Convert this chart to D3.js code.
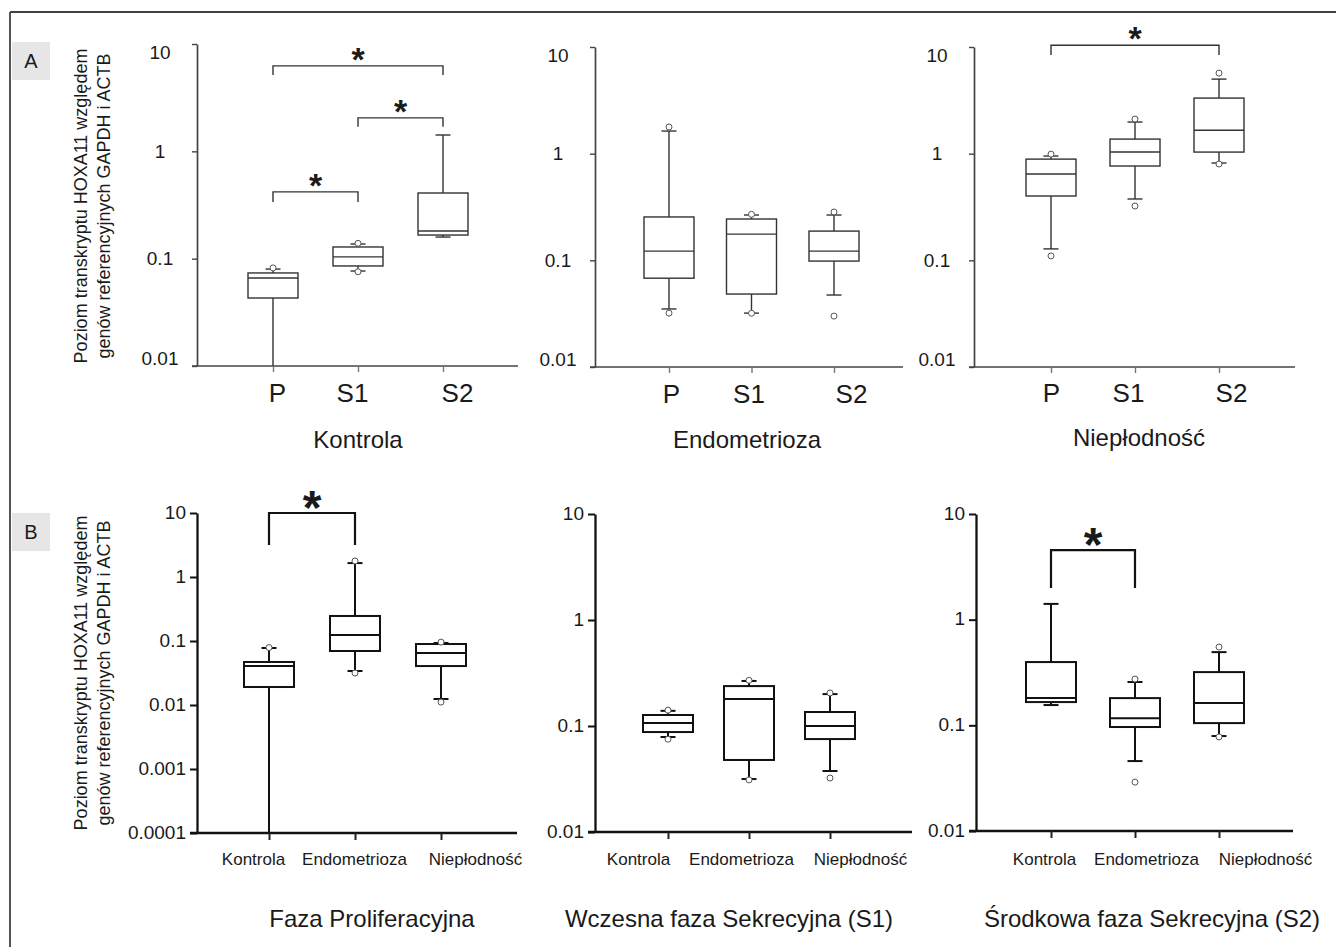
<!DOCTYPE html>
<html><head><meta charset="utf-8">
<script src="https://cdn.jsdelivr.net/npm/d3@7"></script>
<style>
body{margin:0;background:#fff;}
text{font-family:"Liberation Sans",Arial,Helvetica,sans-serif;fill:#1a1a1a;}
</style>
</head><body>
<svg id="chart" width="1336" height="947"></svg>
<script>
// ---------------- DATA ----------------
const catA = ["P", "S1", "S2"];
const catB = ["Kontrola", "Endometrioza", "Niepłodność"];
const titlesA = ["Kontrola", "Endometrioza", "Niepłodność"];
const titlesB = ["Faza Proliferacyjna", "Wczesna faza Sekrecyjna (S1)", "Środkowa faza Sekrecyjna (S2)"];
const yLabelLines = ["Poziom transkryptu HOXA11 względem", "genów referencyjnych GAPDH i ACTB"];
const rowLetters = ["A", "B"];

const ticksA = [0.01, 0.1, 1, 10];
const tickLabelsA = ["0.01", "0.1", "1", "10"];
const ticksProlif = [0.0001, 0.001, 0.01, 0.1, 1, 10];
const tickLabelsProlif = ["0.0001", "0.001", "0.01", "0.1", "1", "10"];

// each box: [lower whisker, Q1, median, Q3, upper whisker]
const boxesKontrola = [[0.01, 0.043, 0.066, 0.0736, 0.080], [0.0767, 0.0855, 0.104, 0.1285, 0.137], [0.159, 0.166, 0.181, 0.409, 1.42]];
const outliersKontrola = [[0.082], [0.139, 0.0755], []];
const boxesEndo = [[0.035, 0.068, 0.122, 0.255, 1.63], [0.032, 0.0483, 0.176, 0.244, 0.266], [0.0473, 0.0984, 0.122, 0.188, 0.266]];
const outliersEndo = [[1.78, 0.032], [0.27, 0.0319], [0.284, 0.030]];
const boxesNiep = [[0.128, 0.401, 0.644, 0.889, 0.95], [0.376, 0.766, 1.035, 1.37, 1.98], [0.817, 1.035, 1.66, 3.32, 5.0]];
const outliersNiep = [[0.99, 0.110], [2.11, 0.323], [5.69, 0.80]];

const boxesProlif = [[0.0001, 0.0191, 0.0406, 0.047, 0.0778], [0.034, 0.0698, 0.124, 0.246, 1.65], [0.0124, 0.0406, 0.065, 0.0897, 0.093]];
const outliersProlif = [[0.079], [1.78, 0.0316], [0.096, 0.0111]];
const boxesS1 = [[0.0787, 0.0877, 0.1066, 0.127, 0.139], [0.0316, 0.0478, 0.18, 0.238, 0.266], [0.0376, 0.0753, 0.1, 0.1355, 0.2]];
const outliersS1 = [[0.141, 0.075], [0.27, 0.031], [0.205, 0.0323]];
const boxesS2 = [[0.1556, 0.166, 0.181, 0.397, 1.41], [0.0459, 0.0964, 0.117, 0.181, 0.257], [0.0792, 0.105, 0.1626, 0.319, 0.493]];
const outliersS2 = [[], [0.274, 0.029], [0.551, 0.0777]];

// significance brackets: [from, to, bracket level, leg end]
const bracketsKontrola = [["P", "S2", 6.25, 5.15], ["S1", "S2", 2.05, 1.69], ["P", "S1", 0.419, 0.337]];
const bracketsNiep = [["P", "S2", 10.4, 8.4]];
const bracketsProlif = [["Kontrola", "Endometrioza", 10, 3.16]];
const bracketsS2 = [["Kontrola", "Endometrioza", 4.55, 1.99]];

// ---------------- LAYOUT ----------------
const panels = [
  {cats: catA, title: titlesA[0], boxes: boxesKontrola, outs: outliersKontrola, brackets: bracketsKontrola,
   ticks: ticksA, tickLabels: tickLabelsA, domain: [0.01, 10],
   ax: 197, top: 44, bottom: 366, xEnd: 518, x0: 273, x1: 443, labelDx: [4, -6, 14], labelY: 402, titleX: 358, titleY: 448, rowA: true},
  {cats: catA, title: titlesA[1], boxes: boxesEndo, outs: outliersEndo, brackets: [],
   ticks: ticksA, tickLabels: tickLabelsA, domain: [0.01, 10],
   ax: 595, top: 47, bottom: 367, xEnd: 903, x0: 669, x1: 834, labelDx: [2, -3, 17], labelY: 403, titleX: 747, titleY: 448, rowA: true},
  {cats: catA, title: titlesA[2], boxes: boxesNiep, outs: outliersNiep, brackets: bracketsNiep,
   ticks: ticksA, tickLabels: tickLabelsA, domain: [0.01, 10],
   ax: 974, top: 47, bottom: 367, xEnd: 1295, x0: 1051, x1: 1219, labelDx: [0, -7, 12], labelY: 402, titleX: 1139, titleY: 446, rowA: true},
  {cats: catB, title: titlesB[0], boxes: boxesProlif, outs: outliersProlif, brackets: bracketsProlif,
   ticks: ticksProlif, tickLabels: tickLabelsProlif, domain: [0.0001, 10],
   ax: 197, top: 513, bottom: 833, xEnd: 517, x0: 269, x1: 441, labelDx: [-16, -1, 34], labelY: 865, titleX: 372, titleY: 927, rowA: false},
  {cats: catB, title: titlesB[1], boxes: boxesS1, outs: outliersS1, brackets: [],
   ticks: ticksA, tickLabels: tickLabelsA, domain: [0.01, 10],
   ax: 595, top: 514, bottom: 832, xEnd: 912, x0: 668, x1: 830, labelDx: [-30, -8, 30], labelY: 865, titleX: 729, titleY: 927, rowA: false},
  {cats: catB, title: titlesB[2], boxes: boxesS2, outs: outliersS2, brackets: bracketsS2,
   ticks: ticksA, tickLabels: tickLabelsA, domain: [0.01, 10],
   ax: 976, top: 514, bottom: 831, xEnd: 1293, x0: 1051, x1: 1219, labelDx: [-7, 11, 46], labelY: 865, titleX: 1152, titleY: 927, rowA: false}
];

const svg = d3.select("#chart");
svg.append("rect").attr("width", 1336).attr("height", 947).attr("fill", "#fff");

// outer frame (top + left)
svg.append("line").attr("x1", 10).attr("x2", 1336).attr("y1", 12).attr("y2", 12)
  .attr("stroke", "#000").attr("stroke-width", 1.5);
svg.append("line").attr("x1", 10).attr("x2", 10).attr("y1", 12).attr("y2", 947)
  .attr("stroke", "#555").attr("stroke-width", 2);

// row letters
[[42, 206], [513, 673]].forEach(([by, cy], i) => {
  svg.append("rect").attr("x", 12).attr("y", by).attr("width", 38).attr("height", 38).attr("fill", "#e6e6e6");
  svg.append("text").attr("x", 31).attr("y", by + 26).attr("text-anchor", "middle")
    .attr("font-size", 20).text(rowLetters[i]);
  // y-axis labels
  yLabelLines.forEach((line, j) => {
    svg.append("text")
      .attr("transform", `translate(${j === 0 ? 87 : 110},${cy}) rotate(-90)`)
      .attr("text-anchor", "middle").attr("font-size", 18).text(line);
  });
});

function drawPanel(p) {
  const g = svg.append("g");
  const y = d3.scaleLog().domain(p.domain).range([p.bottom, p.top]);
  const x = d3.scalePoint().domain(p.cats).range([p.x0, p.x1]);
  const sw = p.rowA ? 1.4 : 2;
  const col = p.rowA ? "#333" : "#111";
  const axCol = p.rowA ? "#444" : "#111";
  const tk = p.rowA ? 5 : 7;

  // y axis
  const ya = g.append("g").attr("transform", `translate(${p.ax},0)`)
    .call(d3.axisLeft(y).tickValues(p.ticks).tickFormat((d, i) => p.tickLabels[i])
      .tickSize(tk).tickSizeOuter(0));
  ya.select(".domain").attr("stroke", axCol).attr("stroke-width", sw + 0.3);
  ya.selectAll(".tick line").attr("stroke", axCol).attr("stroke-width", sw);
  const yt = ya.selectAll(".tick text").attr("font-size", 19).attr("fill", "#1a1a1a")
    .style("font-family", '"Liberation Sans", Arial, sans-serif');
  if (p.rowA) {
    const n = p.ticks.length;
    yt.attr("text-anchor", "middle").attr("x", -37)
      .attr("dy", (d, i) => i === 0 ? "-0.1em" : (i === n - 1 ? "0.75em" : "0.32em"));
  } else {
    yt.attr("text-anchor", "end").attr("x", -11).attr("dy", "0.28em");
  }

  // x axis
  g.append("line").attr("x1", p.ax - tk).attr("x2", p.xEnd).attr("y1", p.bottom).attr("y2", p.bottom)
    .attr("stroke", axCol).attr("stroke-width", sw + 0.3);
  const xa = g.append("g").attr("transform", `translate(0,${p.bottom})`)
    .call(d3.axisBottom(x).tickSize(p.rowA ? 6 : 7).tickSizeOuter(0));
  xa.select(".domain").remove();
  xa.selectAll(".tick line").attr("stroke", p.rowA ? "#777" : "#222").attr("stroke-width", sw);
  xa.selectAll(".tick text")
    .attr("font-size", p.rowA ? 26 : 17).attr("fill", "#1a1a1a")
    .style("font-family", '"Liberation Sans", Arial, sans-serif')
    .attr("dy", null).attr("y", p.labelY - p.bottom)
    .attr("x", (d, i) => p.labelDx[i]);

  // title
  g.append("text").attr("x", p.titleX).attr("y", p.titleY).attr("text-anchor", "middle")
    .attr("font-size", 24).text(p.title);

  const bw = 50, cw = 15;
  p.cats.forEach((c, i) => {
    const s = p.boxes[i];
    const cx = x(c);
    const bg = g.append("g").attr("stroke", col).attr("stroke-width", sw).attr("fill", "none");
    bg.append("line").attr("x1", cx).attr("x2", cx).attr("y1", y(s[0])).attr("y2", y(s[1]));
    bg.append("line").attr("x1", cx).attr("x2", cx).attr("y1", y(s[3])).attr("y2", y(s[4]));
    [s[0], s[4]].forEach(v => {
      if (v > p.domain[0]) {
        bg.append("line").attr("x1", cx - cw / 2).attr("x2", cx + cw / 2).attr("y1", y(v)).attr("y2", y(v));
      }
    });
    bg.append("rect").attr("x", cx - bw / 2).attr("width", bw)
      .attr("y", y(s[3])).attr("height", y(s[1]) - y(s[3])).attr("fill", "#fff");
    bg.append("line").attr("x1", cx - bw / 2).attr("x2", cx + bw / 2).attr("y1", y(s[2])).attr("y2", y(s[2]));
    p.outs[i].forEach(v => {
      g.append("circle").attr("cx", cx).attr("cy", y(v)).attr("r", 3)
        .attr("fill", "#fff").attr("stroke", "#555").attr("stroke-width", 1);
    });
  });

  // significance brackets
  const fs = p.rowA ? 34 : 48;
  p.brackets.forEach(b => {
    const xa1 = x(b[0]), xb1 = x(b[1]);
    g.append("path")
      .attr("d", `M${xa1},${y(b[3])}V${y(b[2])}H${xb1}V${y(b[3])}`)
      .attr("fill", "none").attr("stroke", col).attr("stroke-width", p.rowA ? 1.4 : 2.2);
    const cyStar = y(b[2]) - (p.rowA ? 14 : 16);
    g.append("text").attr("x", (xa1 + xb1) / 2).attr("y", cyStar + 0.56 * fs)
      .attr("text-anchor", "middle").attr("font-size", fs).attr("font-weight", "bold")
      .attr("fill", "#111").text("*");
  });
}

panels.forEach(drawPanel);
</script>
</body></html>
